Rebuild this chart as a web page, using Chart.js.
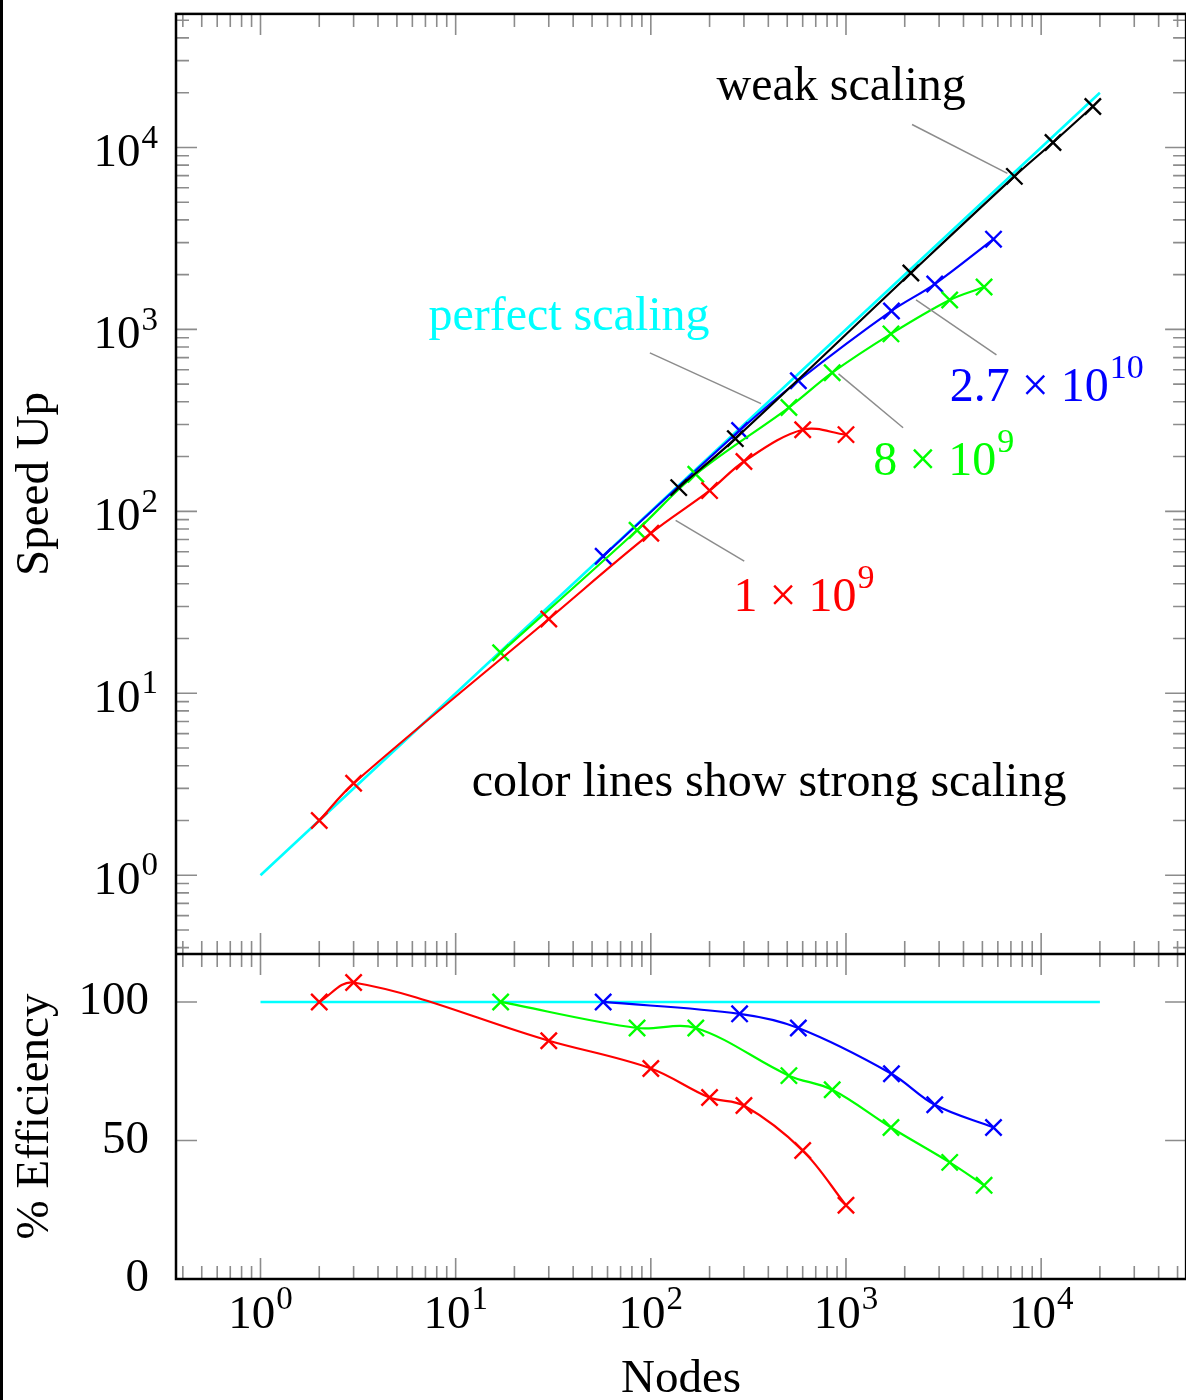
<!DOCTYPE html>
<html>
<head>
<meta charset="utf-8">
<title>Speed Up and Efficiency</title>
<script src="https://cdn.jsdelivr.net/npm/chart.js@4.4.1/dist/chart.umd.min.js"></script>
<style>
  html, body { margin: 0; padding: 0; background: #fff; overflow: hidden; }
  #wrap { position: relative; width: 1186px; height: 1400px; overflow: hidden; }
  #grafico { position: absolute; left: 0; top: 0; }
  #borda { position: absolute; left: 0; top: 0; width: 3px; height: 1400px; background: #000; }
</style>
</head>
<body>
<div id="wrap">
  <canvas id="grafico" width="1200" height="1400"></canvas>
  <div id="borda"></div>
</div>
<script>
// --- DADOS ---
const xTicks = [1, 10, 100, 1000, 10000];
const xTickExp = ['0', '1', '2', '3', '4'];
const speedTicks = [1, 10, 100, 1000, 10000];
const speedTickExp = ['0', '1', '2', '3', '4'];
const effTicks = [0, 50, 100];
const effTickLabels = ['0', '50', '100'];

// 1 x 10^9
const redNodes = [2, 3, 30, 100, 200, 300, 600, 1000];
const redSpeedUp = [2.0, 3.2, 25.6, 75.8, 130, 188, 281, 264];
const redEfficiency = [100, 107, 86, 76, 65.5, 62.6, 46.4, 26.6];

// 8 x 10^9
const greenNodes = [17, 85, 170, 510, 850, 1700, 3400, 5100];
const greenSpeedUp = [16.7, 78.7, 160, 372, 578, 945, 1451, 1709];
const greenEfficiency = [100, 90.6, 90.6, 73.4, 68.3, 54.7, 42.1, 33.8];

// 2.7 x 10^10
const blueNodes = [57, 285, 570, 1710, 2850, 5700];
const blueSpeedUp = [56.7, 278, 522, 1263, 1775, 3133];
const blueEfficiency = [100, 95.7, 90.6, 74.1, 62.9, 54.7];

// weak scaling
const weakNodes = [139, 271, 2150, 7290, 11500, 18400];
const weakSpeedUp = [135, 251, 2040, 6935, 10650, 16780];

// perfect scaling
const perfectNodes = [1, 20000];
const perfectSpeedUp = [1, 20000];
const perfectEfficiency = [100, 100];

// textos e setas (coordenadas em Nodes / Speed Up)
const notas = [
  { text: 'weak scaling', sup: '', color: '#000', at: [217, 21300], pin: [[2180, 13370], [6714, 7203]] },
  { text: 'perfect scaling', sup: '', color: '#00ffff', at: [7.25, 1170], pin: [[98.9, 743], [367, 391]] },
  { text: '2.7 × 10', sup: '10', color: '#0000ff', at: [3400, 472], pin: [[2285, 1451], [5902, 725]] },
  { text: '8 × 10', sup: '9', color: '#00ff00', at: [1380, 186], pin: [[916, 570], [1962, 288]] },
  { text: '1 × 10', sup: '9', color: '#ff0000', at: [265, 33.4], pin: [[134, 89.3], [301, 53.2]] },
  { text: 'color lines show strong scaling', sup: '', color: '#000', at: [12.1, 3.19], pin: null }
];

const FONTE = 'Liberation Serif';
const TAM = 47;

function pontos(xs, ys) {
  return xs.map((x, i) => ({ x: x, y: ys[i] }));
}

function serie(xs, ys, cor, eixo, comMarca) {
  return {
    data: pontos(xs, ys),
    yAxisID: eixo,
    borderColor: cor,
    backgroundColor: cor,
    borderWidth: 2.2,
    tension: 0.35,
    pointStyle: 'crossRot',
    pointRadius: comMarca ? 11.5 : 0,
    pointBorderWidth: 2.4,
    pointHoverRadius: comMarca ? 11.5 : 0,
    fill: false
  };
}

// texto com expoente; align: 'left' | 'center' | 'right'
function textoSup(ctx, base, sup, x, y, align, tam) {
  const tamSup = Math.round(tam * 0.7);
  ctx.font = `${tam}px "${FONTE}"`;
  const wb = ctx.measureText(base).width;
  ctx.font = `${tamSup}px "${FONTE}"`;
  const ws = sup ? ctx.measureText(sup).width + 1 : 0;
  const total = wb + ws;
  let x0 = x;
  if (align === 'center') x0 = x - total / 2;
  if (align === 'right') x0 = x - total;
  ctx.textAlign = 'left';
  ctx.font = `${tam}px "${FONTE}"`;
  ctx.fillText(base, x0, y);
  if (sup) {
    ctx.font = `${tamSup}px "${FONTE}"`;
    ctx.fillText(sup, x0 + wb + 1, y - tam * 0.4);
  }
}

// Desenha moldura, tiques (para dentro) e rótulos dos eixos log
const molduraTiques = {
  id: 'molduraTiques',
  afterDraw(chart) {
    const { ctx, chartArea: a, scales } = chart;
    const sx = scales.x, sy = scales.y, sy2 = scales.y2;
    const MAJ = 21, MIN = 13;
    ctx.save();
    ctx.strokeStyle = '#8c8c8c';
    ctx.lineWidth = 1.6;
    ctx.beginPath();

    // tiques do eixo x (nas quatro bordas horizontais)
    for (let d = -1; d <= 5; d++) {
      for (let m = 1; m <= 9; m++) {
        const v = m * Math.pow(10, d);
        if (v < sx.min || v > sx.max) continue;
        const px = sx.getPixelForValue(v);
        const len = m === 1 ? MAJ : MIN;
        [[sy.top, 1], [sy.bottom, -1], [sy2.top, 1], [sy2.bottom, -1]].forEach(([yy, dir]) => {
          ctx.moveTo(px, yy);
          ctx.lineTo(px, yy + dir * len);
        });
      }
    }

    // tiques do Speed Up (log)
    for (let d = -1; d <= 5; d++) {
      for (let m = 1; m <= 9; m++) {
        const v = m * Math.pow(10, d);
        if (v < sy.min || v > sy.max) continue;
        const py = sy.getPixelForValue(v);
        const len = m === 1 ? MAJ : MIN;
        ctx.moveTo(a.left, py); ctx.lineTo(a.left + len, py);
        ctx.moveTo(a.right, py); ctx.lineTo(a.right - len, py);
      }
    }

    // tiques da eficiência
    effTicks.forEach(v => {
      const py = sy2.getPixelForValue(v);
      ctx.moveTo(a.left, py); ctx.lineTo(a.left + MAJ, py);
      ctx.moveTo(a.right, py); ctx.lineTo(a.right - MAJ, py);
    });
    ctx.stroke();

    // moldura
    ctx.strokeStyle = '#000';
    ctx.lineWidth = 2.5;
    ctx.strokeRect(a.left, a.top, a.right - a.left, a.bottom - a.top);
    ctx.beginPath();
    ctx.moveTo(a.left, sy.bottom);
    ctx.lineTo(a.right, sy.bottom);
    ctx.stroke();

    // rótulos 10^n
    ctx.fillStyle = '#000';
    ctx.textBaseline = 'alphabetic';
    xTicks.forEach((v, i) => {
      textoSup(ctx, '10', xTickExp[i], sx.getPixelForValue(v), a.bottom + 49, 'center', TAM);
    });
    speedTicks.forEach((v, i) => {
      textoSup(ctx, '10', speedTickExp[i], a.left - 18, sy.getPixelForValue(v) + 19, 'right', TAM);
    });
    ctx.restore();
  }
};

const anotacoes = {
  id: 'anotacoes',
  afterDatasetsDraw(chart) {
    const { ctx, scales } = chart;
    const sx = scales.x, sy = scales.y;
    ctx.save();
    ctx.strokeStyle = '#8c8c8c';
    ctx.lineWidth = 1.5;
    notas.forEach(n => {
      if (!n.pin) return;
      ctx.beginPath();
      ctx.moveTo(sx.getPixelForValue(n.pin[0][0]), sy.getPixelForValue(n.pin[0][1]));
      ctx.lineTo(sx.getPixelForValue(n.pin[1][0]), sy.getPixelForValue(n.pin[1][1]));
      ctx.stroke();
    });
    ctx.textBaseline = 'middle';
    notas.forEach(n => {
      ctx.fillStyle = n.color;
      textoSup(ctx, n.text, n.sup, sx.getPixelForValue(n.at[0]), sy.getPixelForValue(n.at[1]), 'left', 48);
    });
    ctx.restore();
  }
};

function fixarTiques(valores) {
  return function (scale) {
    scale.ticks = valores.map(v => ({ value: v }));
  };
}

function semMargem(scale) {
  scale.paddingTop = 0;
  scale.paddingBottom = 0;
  scale.paddingLeft = 0;
  scale.paddingRight = 0;
}

const fonteTick = { family: FONTE, size: TAM };
const fonteTitulo = { family: FONTE, size: TAM, lineHeight: 1.2 };

new Chart(document.getElementById('grafico'), {
  type: 'line',
  data: {
    datasets: [
      serie(weakNodes, weakSpeedUp, '#000000', 'y', true),
      serie(redNodes, redSpeedUp, '#ff0000', 'y', true),
      serie(greenNodes, greenSpeedUp, '#00ff00', 'y', true),
      serie(blueNodes, blueSpeedUp, '#0000ff', 'y', true),
      serie(redNodes, redEfficiency, '#ff0000', 'y2', true),
      serie(greenNodes, greenEfficiency, '#00ff00', 'y2', true),
      serie(blueNodes, blueEfficiency, '#0000ff', 'y2', true),
      Object.assign(serie(perfectNodes, perfectSpeedUp, '#00ffff', 'y', false), { borderWidth: 2.6 }),
      Object.assign(serie(perfectNodes, perfectEfficiency, '#00ffff', 'y2', false), { borderWidth: 2.6 })
    ]
  },
  options: {
    responsive: false,
    animation: false,
    devicePixelRatio: 1,
    layout: { padding: { left: 0, right: 7, top: 10, bottom: 0 } },
    plugins: { legend: { display: false }, tooltip: { enabled: false } },
    scales: {
      x: {
        type: 'logarithmic',
        min: 0.369,
        max: 55300,
        grid: { display: false },
        border: { display: false },
        afterBuildTicks: fixarTiques(xTicks),
        afterFit(scale) { scale.height = 121; semMargem(scale); },
        ticks: { display: false },
        title: { display: true, text: 'Nodes', color: '#000', font: { family: FONTE, size: TAM, lineHeight: 0.85 }, padding: { top: 0, bottom: 0 } }
      },
      y: {
        type: 'logarithmic',
        position: 'left',
        stack: 'paineis',
        stackWeight: 943,
        weight: 2,
        min: 0.369,
        max: 54200,
        grid: { display: false },
        border: { display: false },
        afterBuildTicks: fixarTiques(speedTicks),
        afterFit(scale) { scale.width = 176; semMargem(scale); },
        ticks: { display: false },
        title: { display: true, text: 'Speed Up', color: '#000', font: fonteTitulo, padding: { top: 7, bottom: 0 } }
      },
      y2: {
        type: 'linear',
        position: 'left',
        stack: 'paineis',
        stackWeight: 326,
        weight: 1,
        min: 0,
        max: 117.3,
        grid: { display: false },
        border: { display: false },
        afterBuildTicks: fixarTiques(effTicks),
        afterFit(scale) { scale.width = 176; semMargem(scale); },
        ticks: {
          font: fonteTick,
          color: '#000',
          padding: 19,
          autoSkip: false,
          callback: (v) => effTickLabels[effTicks.indexOf(v)] || ''
        },
        title: { display: true, text: '% Efficiency', color: '#000', font: fonteTitulo, padding: { top: 7, bottom: 0 } }
      }
    }
  },
  plugins: [molduraTiques, anotacoes]
});
</script>
</body>
</html>
